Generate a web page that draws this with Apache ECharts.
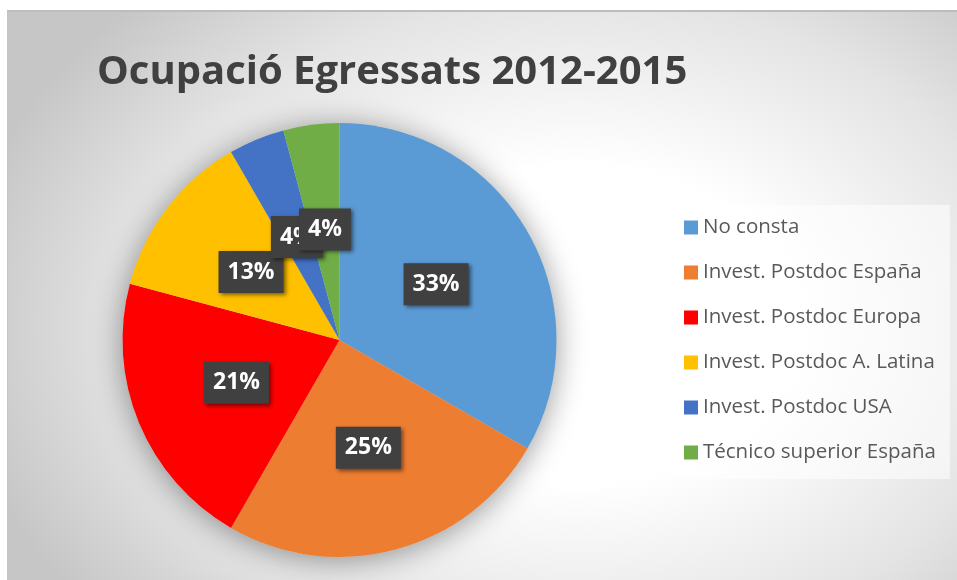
<!DOCTYPE html>
<html>
<head>
<meta charset="utf-8">
<script src="https://cdn.jsdelivr.net/npm/echarts@6/dist/echarts.min.js"></script>
<style>
  html, body { margin: 0; padding: 0; background: #ffffff; }
  #bg {
    position: absolute; left: 7px; top: 10px; width: 950px; height: 570px;
    box-sizing: border-box;
    border-top: 2px solid #bdbdbd; border-left: 1px solid #c4c4c4;
    background: radial-gradient(ellipse 66% 80% at 60% 55%, #ffffff 0%, #ffffff 35%, #e4e4e4 72%, #c6c6c6 100%);
  }
  #chart { position: absolute; left: 0; top: 0; width: 957px; height: 580px; }
</style>
</head>
<body>
<div id="bg"></div>
<div id="chart"></div>
<script>
// datos del gráfico
const categories = ['No consta', 'Invest. Postdoc España', 'Invest. Postdoc Europa', 'Invest. Postdoc A. Latina', 'Invest. Postdoc USA', 'Técnico superior España'];
const counts = [8, 6, 5, 3, 1, 1];
const colors = ['#5B9BD5', '#ED7D31', '#FF0000', '#FFC000', '#4472C4', '#70AD47'];

const chart = echarts.init(document.getElementById('chart'));

const total = counts.reduce((s, v) => s + v, 0);
const pieData = categories.map((name, i) => ({
  name: name,
  value: counts[i],
  itemStyle: { color: colors[i] }
}));

const option = {
  animation: false,
  backgroundColor: 'transparent',
  title: {
    text: 'Ocupació Egressats 2012-2015',
    left: 92,
    top: 48,
    textStyle: {
      fontFamily: 'Open Sans',
      fontWeight: 'bold',
      fontSize: 40,
      color: '#404040'
    }
  },
  legend: {
    orient: 'vertical',
    left: 672,
    top: 205,
    width: 280,
    data: categories,
    icon: 'rect',
    itemWidth: 14,
    itemHeight: 14,
    itemGap: 24,
    padding: [12, 14, 16, 12],
    backgroundColor: 'rgba(255,255,255,0.55)',
    textStyle: {
      fontFamily: 'Open Sans',
      fontSize: 20.5,
      color: '#595959'
    }
  },
  series: [
    {
      // sombra del pastel
      type: 'pie',
      silent: true,
      center: [339.5, 340],
      radius: 217,
      z: 1,
      label: { show: false },
      labelLine: { show: false },
      data: [{ name: '', value: total }],
      itemStyle: {
        color: '#d0d0d0',
        shadowBlur: 30,
        shadowColor: 'rgba(0,0,0,0.4)',
        shadowOffsetY: 3
      }
    },
    {
      name: 'Ocupació',
      type: 'pie',
      center: [339.5, 340],
      radius: 217,
      startAngle: 90,
      clockwise: true,
      avoidLabelOverlap: false,
      labelLayout: { hideOverlap: false },
      z: 2,
      itemStyle: { borderWidth: 0 },
      emphasis: { disabled: true },
      label: {
        show: true,
        position: 'inside',
        formatter: p => Math.round(p.percent) + '%',
        fontFamily: 'Open Sans',
        fontWeight: 'bold',
        fontSize: 23,
        lineHeight: 28,
        color: '#ffffff',
        backgroundColor: '#404040',
        padding: [7, 9],
        shadowColor: 'rgba(0,0,0,0.5)',
        shadowBlur: 4,
        shadowOffsetX: 2,
        shadowOffsetY: 2
      },
      labelLine: { show: false },
      data: pieData
    }
  ]
};

chart.setOption(option);
</script>
</body>
</html>
